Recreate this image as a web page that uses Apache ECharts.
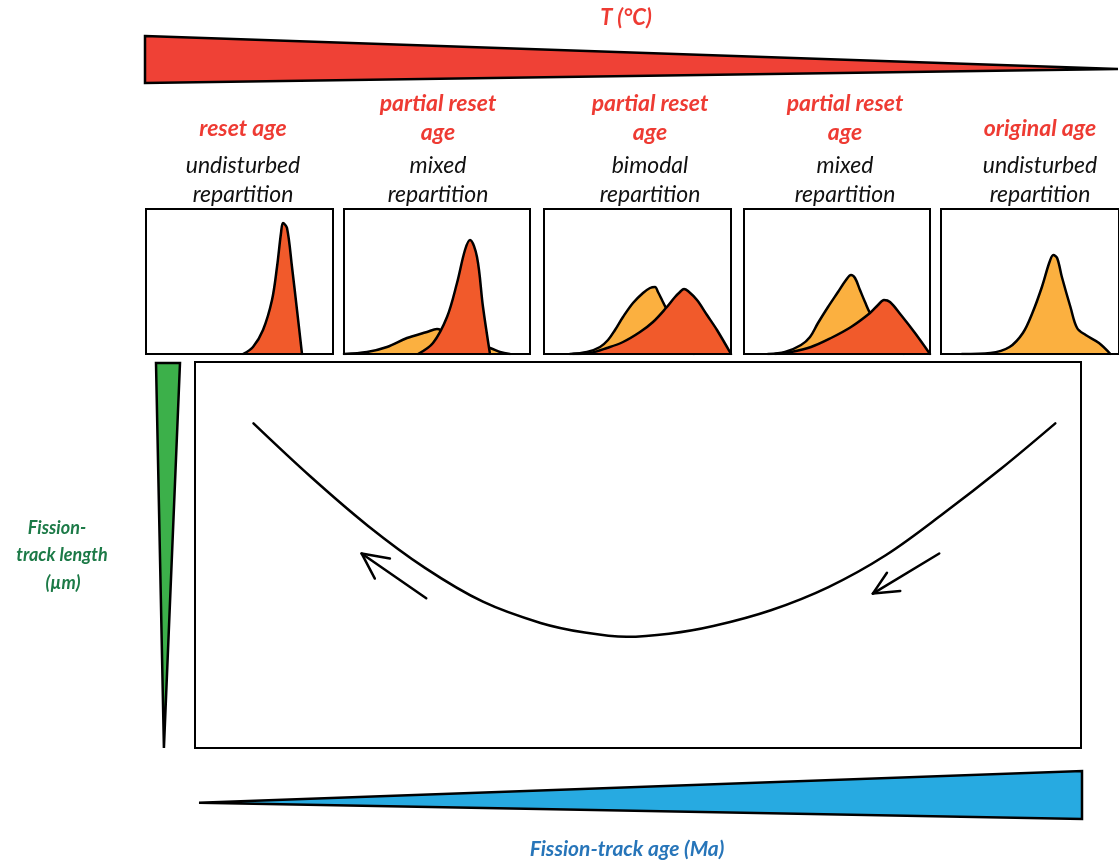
<!DOCTYPE html>
<html>
<head>
<meta charset="utf-8">
<script src="https://cdn.jsdelivr.net/npm/echarts@6/dist/echarts.min.js"></script>
<style>html,body{margin:0;padding:0;background:#fff;}#c{width:1119px;height:861px;}</style>
</head>
<body>
<div id="c"></div>
<script>
// ---------- DATA ----------
const titleTemp = 'T (°C)';
const titleAge = 'Fission-track age (Ma)';
const titleLength = ['Fission-', 'track length', '(µm)'];

const stageAges = [['reset age'], ['partial reset', 'age'], ['partial reset', 'age'], ['partial reset', 'age'], ['original age']];
const stageDists = [['undisturbed', 'repartition'], ['mixed', 'repartition'], ['bimodal', 'repartition'], ['mixed', 'repartition'], ['undisturbed', 'repartition']];

// length distributions (x: track length bin, y: frequency), per panel
const p1Reset = [[97,0],[107,7],[117,24],[126,54],[131,87],[135,121],[137,131],[141,126],[146,87],[151,44],[156,0]];
const p2Original = [[0,0],[23,2],[43,7],[63,16],[83,22],[93,25],[99,23],[110,18],[125,12],[146,6],[156,2],[166,0]];
const p2Reset = [[74,0],[89,11],[103,37],[113,71],[121,104],[126,114],[133,97],[139,47],[146,0]];
const p3Original = [[26,0],[43,2],[56,7],[64,14],[71,24],[79,37],[89,51],[99,61],[106,66],[111,67],[114,62],[118,54],[122,46],[135,25],[150,0]];
const p3Reset = [[29,0],[46,1],[63,6],[79,12],[96,22],[109,32],[122,46],[131,57],[136,62],[140,65],[144,63],[153,54],[163,39],[173,24],[187,0]];
const p4Original = [[24,0],[41,2],[57,9],[66,17],[74,31],[84,47],[94,62],[102,74],[107,79],[111,76],[116,64],[121,52],[126,41],[140,20],[160,0]];
const p4Reset = [[31,0],[47,2],[67,7],[87,16],[107,27],[126,41],[134,49],[140,54],[146,52],[157,39],[171,21],[186,0]];
const p5Original = [[22,0],[52,1],[72,7],[86,21],[96,41],[106,67],[114,92],[118,99],[122,96],[127,77],[136,47],[143,26],[152,19],[166,11],[178,0]];

// main trend: fission-track age (x) vs mean track length (y)
const trendCurve = [[6.6,84.1],[13,70.4],[19.5,57.6],[26,46.6],[32.5,37.9],[39,32.4],[44,29.9],[48.7,28.8],[53.5,29.6],[58.5,31.6],[65,35.7],[71.5,41.7],[78,50.0],[84.5,60.8],[91,72.4],[97.1,84.1]];
const leftArrowShaft = [[26.1,38.8],[18.8,50.4]];
const leftArrowHead = [[22.0,49.1],[18.8,50.4],[20.3,43.9]];
const rightArrowShaft = [[84.0,50.4],[76.5,40.0]];
const rightArrowHead = [[79.6,40.7],[76.5,40.0],[78.1,45.4]];

// wedges (gradients of T, length, age)
const tempWedge = [[0,100],[100,30],[0,0]];
const lengthWedge = [[0,100],[100,100],[33,0]];
const ageWedge = [[0,34],[100,100],[100,0]];

// ---------- STYLE / LAYOUT ----------
const RED_TXT = '#EE3B33', ORANGE = '#F15A2B', YELLOW = '#FBB040';
const FONT = 'Lato, "Open Sans", sans-serif';

const panels = [
  {left:146, width:187, series:[[p1Reset, ORANGE]]},
  {left:344, width:186, series:[[p2Original, YELLOW],[p2Reset, ORANGE]]},
  {left:544, width:187, series:[[p3Original, YELLOW],[p3Reset, ORANGE]]},
  {left:744, width:186, series:[[p4Original, YELLOW],[p4Reset, ORANGE]]},
  {left:941, width:187, series:[[p5Original, YELLOW]]}
];
const labelX = [243, 438, 650, 845, 1040];
const lengthLabelX = [57, 62, 63];

const grids = [], xAxes = [], yAxes = [], series = [];
function addGrid(g, xr, yr, show) {
  grids.push(Object.assign({containLabel:false, show: !!show, z: 10, backgroundColor:'transparent', borderColor:'#000', borderWidth:2}, g));
  const i = grids.length - 1;
  xAxes.push({type:'value', gridIndex:i, min:xr[0], max:xr[1], show:false});
  yAxes.push({type:'value', gridIndex:i, min:yr[0], max:yr[1], show:false});
  return i;
}
function wedge(i, pts, color) {
  series.push({
    type:'custom', xAxisIndex:i, yAxisIndex:i, data: pts, clip:false, silent:true,
    renderItem: function (params, api) {
      if (params.dataIndex !== 0) return;
      return {type:'polygon', shape:{points: pts.map(p => api.coord(p))},
        style:{fill: color, stroke:'#000', lineWidth:2.5, lineJoin:'miter'}};
    }
  });
}
function curve(i, data, fill, smooth, z) {
  series.push({
    type:'line', xAxisIndex:i, yAxisIndex:i, data: data, symbol:'none', smooth: smooth,
    z: z || 2,
    silent:true, lineStyle:{color:'#000', width:2.5, join:'round', cap:'round'},
    areaStyle: fill ? {color: fill, opacity:1, origin:'start'} : undefined
  });
}

// temperature wedge
let gi = addGrid({left:145, top:36, width:973, height:47}, [0,100], [0,100], false);
wedge(gi, tempWedge, '#EF4136');

// panels
panels.forEach(p => {
  const i = addGrid({left:p.left, top:209, width:p.width, height:145}, [0,p.width], [0,145], true);
  p.series.forEach((s, k) => curve(i, s[0], s[1], 0.35, 2 + k));
});

// length wedge
gi = addGrid({left:156, top:363, width:24, height:385}, [0,100], [0,100], false);
wedge(gi, lengthWedge, '#3CB04A');

// main plot
gi = addGrid({left:195, top:362, width:886, height:386}, [0,100], [0,100], true);
curve(gi, trendCurve, null, 0.35);
curve(gi, leftArrowShaft, null, false);
curve(gi, leftArrowHead, null, false);
curve(gi, rightArrowShaft, null, false);
curve(gi, rightArrowHead, null, false);

// age wedge
gi = addGrid({left:199, top:771, width:883, height:48}, [0,100], [0,100], false);
wedge(gi, ageWedge, '#27AAE1');

// texts
const graphic = [];
function txt(s, x, y, size, color, weight) {
  graphic.push({type:'text', x:x, y:y, silent:true, style:{text:s, x:0, y:0, align:'center', verticalAlign:'middle',
    font: 'italic ' + (weight||'normal') + ' ' + size + 'px ' + FONT, fill: color}});
}
txt(titleTemp, 626, 18, 22, RED_TXT, 'bold');
txt(titleAge, 627, 849, 21, '#2775B9', 'bold');
titleLength.forEach((s, k) => txt(s, lengthLabelX[k], 528 + k*27.5, 18, '#1C7A47', 'bold'));
stageAges.forEach((lines, c) => {
  const ys = lines.length === 2 ? [104, 133] : [129];
  lines.forEach((s, k) => txt(s, labelX[c], ys[k], 23, RED_TXT, 'bold'));
});
stageDists.forEach((lines, c) => {
  lines.forEach((s, k) => txt(s, labelX[c], 166 + k*29, 23, '#111', 'normal'));
});

const chart = echarts.init(document.getElementById('c'), null, {renderer:'canvas'});
chart.setOption({
  animation:false, backgroundColor:'#fff',
  grid: grids, xAxis: xAxes, yAxis: yAxes, series: series, graphic: graphic
});
</script>
</body>
</html>
